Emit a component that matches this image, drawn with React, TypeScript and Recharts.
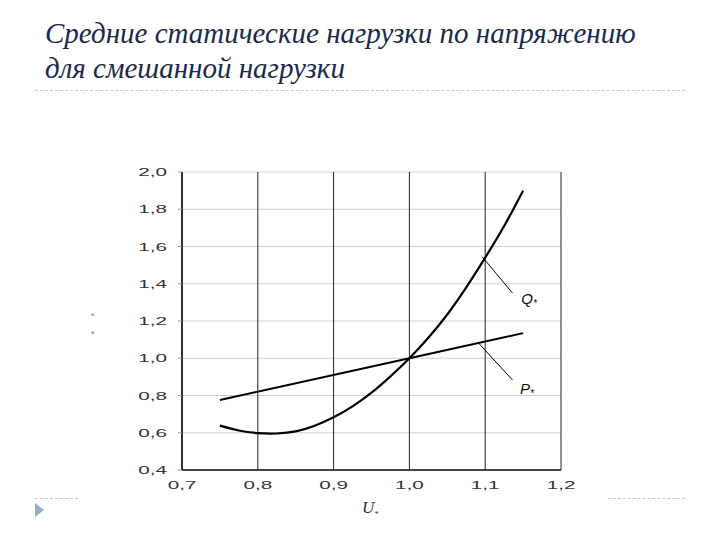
import React from "react";
import {
  LineChart,
  Line,
  XAxis,
  YAxis,
  CartesianGrid,
  ReferenceLine,
  ReferenceDot
} from "recharts";

// U* (relative voltage) sample points
const qU = [0.75, 0.775, 0.8, 0.825, 0.85, 0.875, 0.9, 0.925, 0.95, 0.975, 1.0, 1.025, 1.05, 1.075, 1.1, 1.125, 1.15];
const qVals = [0.638, 0.612, 0.598, 0.596, 0.607, 0.638, 0.683, 0.742, 0.815, 0.903, 1.0, 1.11, 1.235, 1.38, 1.54, 1.71, 1.9];

const pU = [0.75, 1.0, 1.15];
const pVals = [0.776, 1.0, 1.135];

const xTicks = [0.7, 0.8, 0.9, 1.0, 1.1, 1.2];
const yTicks = [0.4, 0.6, 0.8, 1.0, 1.2, 1.4, 1.6, 1.8, 2.0];

const qData = qU.map((u, i) => ({ u, v: qVals[i] }));
const pData = pU.map((u, i) => ({ u, v: pVals[i] }));

const fmt = (v: number) => v.toFixed(1).replace(".", ",");

// the scan has horizontally stretched tick digits, so widen them
const WideTick = (anchor: "end" | "middle", dy: number) => (props: any) => {
  const { x, y, payload } = props;
  return (
    <g transform={`translate(${x},${y}) scale(1.8,1)`}>
      <text
        x={0}
        y={0}
        dy={dy}
        textAnchor={anchor}
        fontFamily="Liberation Sans, Arial, sans-serif"
        fontSize={11.5}
        fill="#333"
      >
        {fmt(payload.value)}
      </text>
    </g>
  );
};

// label with a subscript star, e.g. Q*
const starLabel = (letter: string) => (props: any) => {
  const { viewBox } = props;
  if (!viewBox) return null;
  return (
    <text
      x={viewBox.x}
      y={viewBox.y + 6}
      textAnchor="middle"
      fontFamily="Liberation Sans, Arial, sans-serif"
      fontStyle="italic"
      fontSize={15}
      fill="#111"
    >
      {letter}
      <tspan fontSize={10} dy={3}>*</tspan>
    </text>
  );
};

const App: React.FC = () => (
  <div style={{ position: "absolute", left: 0, top: 0, width: 720, height: 540, background: "#fff" }}>
    <div
      style={{
        position: "absolute",
        left: 45,
        top: 16,
        fontFamily: "Liberation Serif, serif",
        fontStyle: "italic",
        fontSize: 29,
        lineHeight: "35px",
        color: "#1b2a4a",
        whiteSpace: "nowrap"
      }}
    >
      Средние статические нагрузки по напряжению
      <br />
      для смешанной нагрузки
    </div>
    <div style={{ position: "absolute", left: 35, top: 90, width: 650, borderTop: "1px dashed #c8c8c8" }} />
    <div style={{ position: "absolute", left: 35, top: 498, width: 43, borderTop: "1px dashed #c8c8c8" }} />
    <div style={{ position: "absolute", left: 608, top: 498, width: 77, borderTop: "1px dashed #c8c8c8" }} />
    <div
      style={{
        position: "absolute",
        left: 35,
        top: 503,
        width: 0,
        height: 0,
        borderTop: "7px solid transparent",
        borderBottom: "7px solid transparent",
        borderLeft: "9px solid #8fb0cc"
      }}
    />
    <div style={{ position: "absolute", left: 0, top: 0 }}>
      <LineChart width={720} height={540} margin={{ top: 172, right: 159, left: 122, bottom: 40 }}>
        <CartesianGrid vertical={false} stroke="#cfcfcf" horizontalValues={yTicks} />
        <CartesianGrid horizontal={false} stroke="#222" verticalValues={xTicks} />
        <XAxis
          type="number"
          dataKey="u"
          domain={[0.7, 1.2]}
          ticks={xTicks}
          tickLine={false}
          tickSize={0}
          tickMargin={11}
          axisLine={{ stroke: "#111", strokeWidth: 1.5 }}
          tick={WideTick("middle", 8)}
          height={30}
          allowDataOverflow
        />
        <YAxis
          type="number"
          dataKey="v"
          domain={[0.4, 2.0]}
          ticks={yTicks}
          tickSize={4}
          tickMargin={11}
          tickLine={{ stroke: "#999" }}
          axisLine={{ stroke: "#111", strokeWidth: 1.5 }}
          tick={WideTick("end", 4)}
          width={60}
          allowDataOverflow
        />
        <Line
          data={qData}
          dataKey="v"
          type="natural"
          stroke="#000"
          strokeWidth={2.2}
          dot={false}
          isAnimationActive={false}
        />
        <Line
          data={pData}
          dataKey="v"
          type="linear"
          stroke="#000"
          strokeWidth={2}
          dot={false}
          isAnimationActive={false}
        />
        <ReferenceLine
          segment={[{ x: 1.096, y: 1.545 }, { x: 1.136, y: 1.35 }]}
          stroke="#000"
          strokeWidth={1}
        />
        <ReferenceLine
          segment={[{ x: 1.09, y: 1.087 }, { x: 1.136, y: 0.883 }]}
          stroke="#000"
          strokeWidth={1}
        />
        <ReferenceDot x={1.158} y={1.323} r={0} stroke="none" label={starLabel("Q")} />
        <ReferenceDot x={1.155} y={0.84} r={0} stroke="none" label={starLabel("P")} />
      </LineChart>
    </div>
    <div style={{ position: "absolute", left: 91, top: 311, fontSize: 9, color: "#777", fontFamily: "Liberation Sans, sans-serif" }}>*</div>
    <div style={{ position: "absolute", left: 91, top: 329, fontSize: 9, color: "#777", fontFamily: "Liberation Sans, sans-serif" }}>*</div>
    <div
      style={{
        position: "absolute",
        left: 362,
        top: 498,
        fontFamily: "Liberation Serif, serif",
        fontStyle: "italic",
        fontSize: 17,
        color: "#333"
      }}
    >
      U<span style={{ fontSize: 8, verticalAlign: "-4px" }}>*</span>
    </div>
  </div>
);

export default App;
